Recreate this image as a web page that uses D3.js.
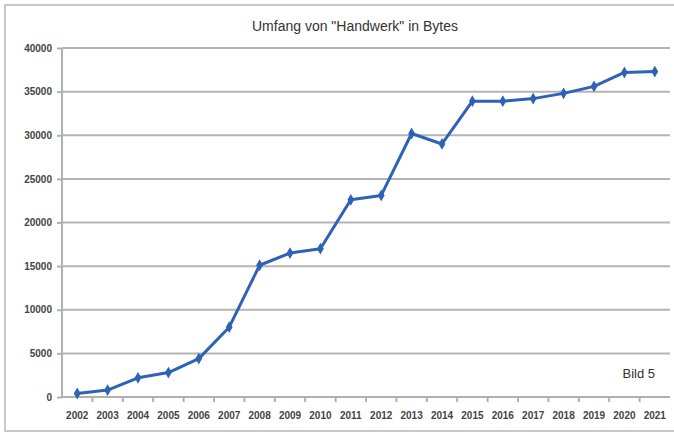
<!DOCTYPE html>
<html>
<head>
<meta charset="utf-8">
<script src="https://cdn.jsdelivr.net/npm/d3@7"></script>
<style>
  body { margin: 0; background: #fff; }
  svg { display: block; font-family: 'Liberation Sans', Arial, sans-serif; }
  .grid line { stroke: #b4b4b4; stroke-width: 2; }
  .axis path, .axis line { stroke: #b0b0b0; stroke-width: 2; }
  .axis text { fill: #444; font-size: 10px; font-weight: bold; }
</style>
</head>
<body>
<script>
var years = ['2002', '2003', '2004', '2005', '2006', '2007', '2008', '2009', '2010', '2011',
  '2012', '2013', '2014', '2015', '2016', '2017', '2018', '2019', '2020', '2021']
var bytes = [400, 800, 2200, 2800, 4400, 8000, 15100, 16500, 17000, 22600,
  23100, 30200, 29000, 33900, 33900, 34200, 34800, 35600, 37200, 37300]
var yTicks = [0, 5000, 10000, 15000, 20000, 25000, 30000, 35000, 40000]

var margin = {top: 48, right: 4, bottom: 40, left: 62}
var width = 674 - margin.left - margin.right
var height = 437 - margin.top - margin.bottom

var svg = d3.select('body').append('svg')
  .attr('width', 674)
  .attr('height', 437)

// outer frame of the picture
svg.append('rect')
  .attr('x', 5)
  .attr('y', 5)
  .attr('width', 680)
  .attr('height', 426)
  .attr('fill', '#fff')
  .attr('stroke', '#c8c8c8')
  .attr('stroke-width', 2)

svg.append('text')
  .attr('x', 355)
  .attr('y', 31)
  .attr('text-anchor', 'middle')
  .attr('fill', '#333')
  .style('font-size', '14px')
  .text('Umfang von "Handwerk" in Bytes')

var g = svg.append('g')
  .attr('transform', 'translate(' + margin.left + ',' + margin.top + ')')

var x = d3.scaleBand()
  .domain(years)
  .range([0, width])

var y = d3.scaleLinear()
  .domain([0, 40000])
  .range([height, 0])

g.append('g')
  .attr('class', 'grid')
  .selectAll('line')
  .data(yTicks.slice(1))
  .enter().append('line')
  .attr('x1', 0)
  .attr('x2', width)
  .attr('y1', function (d) { return y(d) })
  .attr('y2', function (d) { return y(d) })

var yAxis = d3.axisLeft(y)
  .tickValues(yTicks)
  .tickSize(5)
  .tickPadding(5)
  .tickFormat(d3.format('d'))

g.append('g')
  .attr('class', 'axis')
  .call(yAxis)
  .call(function (s) { s.select('.domain').attr('d', 'M0,' + height + 'V0') })

var xAxis = d3.axisBottom(x)
  .tickSize(0)
  .tickPadding(15)

var xg = g.append('g')
  .attr('class', 'axis')
  .attr('transform', 'translate(0,' + height + ')')
  .call(xAxis)

xg.select('.domain').attr('d', 'M0,0H' + width)

// ticks sit on the band boundaries
xg.selectAll('.bound')
  .data(years.slice(1))
  .enter().append('line')
  .attr('class', 'bound')
  .attr('x1', function (d) { return x(d) })
  .attr('x2', function (d) { return x(d) })
  .attr('y1', 0)
  .attr('y2', 5)

var line = d3.line()
  .x(function (d, i) { return x(years[i]) + x.bandwidth() / 2 })
  .y(function (d) { return y(d) })

g.append('path')
  .datum(bytes)
  .attr('fill', 'none')
  .attr('stroke', '#2d62b4')
  .attr('stroke-width', 3)
  .attr('stroke-linejoin', 'round')
  .attr('d', line)

g.selectAll('.dot')
  .data(bytes)
  .enter().append('path')
  .attr('class', 'dot')
  .attr('d', d3.symbol().type(d3.symbolDiamond).size(40))
  .attr('transform', function (d, i) {
    return 'translate(' + (x(years[i]) + x.bandwidth() / 2) + ',' + y(d) + ')'
  })
  .attr('fill', '#2d62b4')

svg.append('text')
  .attr('x', 655)
  .attr('y', 378)
  .attr('text-anchor', 'end')
  .attr('fill', '#333')
  .style('font-size', '13px')
  .text('Bild 5')
</script>
</body>
</html>
